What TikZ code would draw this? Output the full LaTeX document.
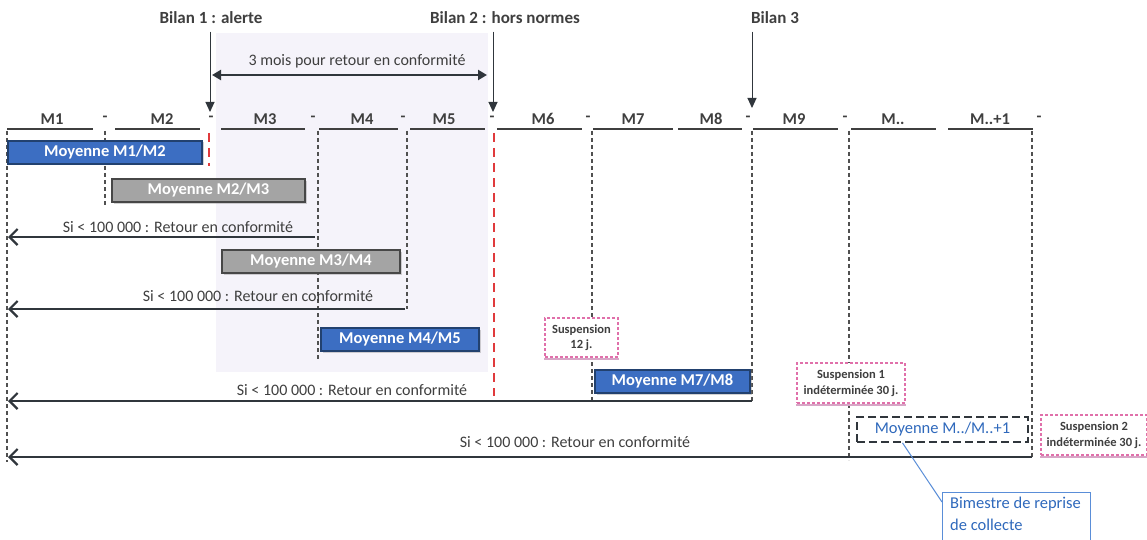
\documentclass[tikz,border=0pt]{standalone}
\usepackage{fontspec}
\setmainfont{Carlito}
\usetikzlibrary{arrows.meta,calc,shadows}
\definecolor{txt}{HTML}{3F3F3F}
\definecolor{darkl}{HTML}{30363C}
\definecolor{dline}{HTML}{505050}
\definecolor{boxblue}{HTML}{3C6EC2}
\definecolor{boxblueb}{HTML}{22416F}
\definecolor{boxgray}{HTML}{A4A4A4}
\definecolor{boxgrayb}{HTML}{474747}
\definecolor{shadecol}{HTML}{F5F3FA}
\definecolor{redd}{HTML}{E03A3C}
\definecolor{pinkb}{HTML}{E070AA}
\definecolor{pinks}{HTML}{D7A6C6}
\definecolor{bluet}{HTML}{2F69BC}
\definecolor{bluel}{HTML}{5A8ED8}
\begin{document}
\begin{tikzpicture}[x=1pt,y=-1pt,
  title/.style={font=\fontsize{17}{20}\selectfont\bfseries,text=txt},
  month/.style={font=\fontsize{16.5}{19}\selectfont\bfseries,text=txt},
  sepmark/.style={font=\fontsize{16}{19}\selectfont\bfseries,text=txt},
  uline/.style={draw=txt,line width=1.4pt},
  colline/.style={draw=dline,line width=1.1pt,dash pattern=on 4pt off 3pt},
  redline/.style={draw=redd,line width=2.3pt,dash pattern=on 9pt off 6pt},
  avgbox/.style={minimum height=23pt,inner sep=0pt,line width=1.2pt,text=white,
    font=\fontsize{16.5}{19}\selectfont\bfseries,
    drop shadow={shadow xshift=1.5pt,shadow yshift=-1.5pt,opacity=0.35}},
  bluebox/.style={avgbox,fill=boxblue,draw=boxblueb},
  graybox/.style={avgbox,fill=boxgray,draw=boxgrayb},
  susp/.style={draw=pinkb,dash pattern=on 3pt off 2pt,line width=1.2pt,fill=white,
    align=center,inner sep=0pt,text=txt,font=\fontsize{12.5}{15.5}\selectfont\bfseries},
  suspbase/.style={draw=pinks,line width=2pt},
  note/.style={font=\fontsize{16}{19}\selectfont,text=txt},
  backarrow/.style={draw=darkl,line width=2.2pt,-{Straight Barb[length=8pt,width=16pt]}},
  bilanarrow/.style={draw=darkl,line width=1pt,-{Triangle[length=10pt,width=9pt]}},
  spanarrow/.style={draw=darkl,line width=2.5pt,{Triangle[length=9pt,width=10pt]}-{Triangle[length=9pt,width=10pt]}},
]
\clip (0,0) rectangle (1147,540);
\fill[white] (0,0) rectangle (1147,540);
% shaded period
\fill[shadecol] (216,33) rectangle (488,372);

% column boundary lines
\draw[colline] (7,131) -- (7,462);
\draw[colline] (105,131) -- (105,207);
\draw[colline] (318,131) -- (318,359);
\draw[colline] (407,131) -- (407,309);
\draw[colline] (592,131) -- (592,401);
\draw[colline] (752,131) -- (752,401);
\draw[colline] (849,131) -- (849,460);
\draw[colline] (1032,131) -- (1032,457);
\draw[redline] (209,133) -- (209,166);
\draw[redline] (494,133) -- (494,396);

% titles and bilan arrows
\node[title] (b1) at (211,18) {Bilan 1 : alerte};
\node[title] (b2) at (505,18) {Bilan 2 : hors normes};
\node[title] (b3) at (775,18) {Bilan 3};
\coordinate (c1) at (210,112);
\coordinate (c2) at (493,112);
\coordinate (c3) at (752,108);
\draw[bilanarrow,shorten <=4pt] (b1.south -| c1) -- (c1);
\draw[bilanarrow,shorten <=4pt] (b2.south -| c2) -- (c2);
\draw[bilanarrow,shorten <=4pt] (b3.south -| c3) -- (c3);

% span arrow
\node[note] (spt) at (357,61) {3 mois pour retour en conformité};
\coordinate (sp1) at (212,75);
\coordinate (sp2) at (487,75);
\draw[spanarrow] (sp1) -- (sp2);

% months
\foreach \n/\x/\t in {m1/52/M1,m2/162/M2,m3/265/M3,m4/362/M4,m5/444/M5,m6/543/M6,
  m7/633/M7,m8/711/M8,m9/794/M9,mx/893/M..,my/990/M..+1}
  \node[month] (\n) at (\x,119) {\t};
\foreach \x [count=\i] in {105,211,313,403,492,588,748,845,1039}
  \node[sepmark] (d\i) at (\x,119) {-};
\foreach \a/\b in {7/93,115/200,221/305,319/398,410/485,497/582,593/673,678/742,753/838,851/936,948/1033}
  \draw[uline] (\a,129) -- (\b,129);

% average boxes
\node[bluebox,minimum width=194pt] (a12) at (105,152.5) {Moyenne M1/M2};
\node[graybox,minimum width=193pt] (a23) at (208.5,190.5) {Moyenne M2/M3};
\node[graybox,minimum width=178pt] (a34) at (311,261.5) {Moyenne M3/M4};
\node[bluebox,minimum width=158pt] (a45) at (400,339.5) {Moyenne M4/M5};
\node[bluebox,minimum width=155pt] (a78) at (672.5,381.5) {Moyenne M7/M8};
\node[draw=darkl,line width=1.8pt,dash pattern=on 8pt off 4pt,fill=white,
  minimum width=171pt,minimum height=25pt,inner sep=0pt,text=bluet,
  font=\fontsize{16.5}{19}\selectfont] (axy) at (942.5,429.5) {Moyenne M../M..+1};

% suspensions
\node[susp,minimum width=73pt,minimum height=39pt] (s0) at (581.5,337.5) {Suspension\\12 j.};
\node[susp,minimum width=108pt,minimum height=40pt] (s1) at (851,383) {Suspension 1\\indéterminée 30 j.};
\node[susp,minimum width=106pt,minimum height=40pt] (s2) at (1094,435) {Suspension 2\\indéterminée 30 j.};
\foreach \s in {s0,s1,s2}
  \draw[suspbase] ([yshift=-1pt]\s.south west) -- ([yshift=-1pt]\s.south east);

% return arrows
\coordinate (r1s) at (315,237); \coordinate (r1e) at (8,237);
\coordinate (r2s) at (405,309); \coordinate (r2e) at (8,309);
\coordinate (r3s) at (752,401); \coordinate (r3e) at (8,401);
\coordinate (r4s) at (1032,457); \coordinate (r4e) at (8,457);
\draw[backarrow] (r1s) -- (r1e);
\draw[backarrow] (r2s) -- (r2e);
\draw[backarrow] (r3s) -- (r3e);
\draw[backarrow] (r4s) -- (r4e);
\node[note] (t1) at (178,227) {Si < 100 000 : Retour en conformité};
\node[note] (t2) at (258,296) {Si < 100 000 : Retour en conformité};
\node[note] (t3) at (352,390) {Si < 100 000 : Retour en conformité};
\node[note] (t4) at (575,442) {Si < 100 000 : Retour en conformité};

% callout
\node[draw=bluel,line width=1pt,anchor=north west,minimum width=148pt,minimum height=70pt,inner sep=0pt] (bim) at (942,492) {};
\node[anchor=north west,inner sep=0pt,align=left,text=bluet,font=\fontsize{16.5}{22}\selectfont] (bimt) at ($(bim.north west)+(8,5)$) {Bimestre de reprise\\de collecte};
\draw[bluel,line width=1pt] ($(axy.south)+(-40,0)$) -- ($(bim.north west)+(0,10)$);
\end{tikzpicture}
\end{document}
